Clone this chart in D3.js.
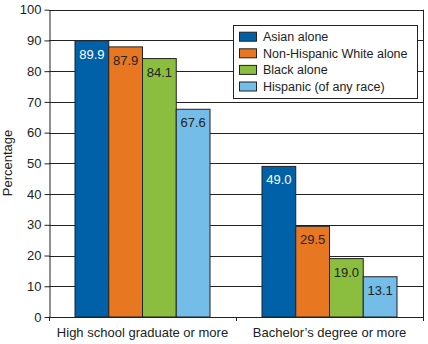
<!DOCTYPE html>
<html><head><meta charset="utf-8">
<script src="https://cdn.jsdelivr.net/npm/d3@7"></script>
<style>body{margin:0;background:#fff}svg{display:block}text{font-family:"Liberation Sans",Arial,sans-serif}</style>
</head><body><svg id="c" width="428" height="344"></svg>
<script>
const categories = ["High school graduate or more", "Bachelor\u2019s degree or more"];
const seriesNames = ["Asian alone", "Non-Hispanic White alone", "Black alone", "Hispanic (of any race)"];
const asian = [89.9, 49.0];
const white = [87.9, 29.5];
const black = [84.1, 19.0];
const hispanic = [67.6, 13.1];
const yTicks = [0,10,20,30,40,50,60,70,80,90,100];
const colors = ["#0061a9", "#e87722", "#8bbe3f", "#73bde8"];
const labelColors = ["#fff", "#222", "#222", "#222"];
const seriesValues = [asian, white, black, hispanic];

const svg = d3.select("#c");
const L = 49, R = 423, T = 9.7, B = 317;
const x0 = d3.scaleBand().domain(categories).range([L, R]).paddingInner(0.278).paddingOuter(0.139);
const x1 = d3.scaleBand().domain(seriesNames).range([0, x0.bandwidth()]);
const y = d3.scaleLinear().domain([0, 100]).range([B, T]);

// gridlines
svg.append("g").selectAll("line").data(yTicks.filter(d=>d>0)).join("line")
  .attr("x1", L).attr("x2", R).attr("y1", d=>Math.round(y(d))+0.5).attr("y2", d=>Math.round(y(d))+0.5)
  .attr("stroke", "#222").attr("stroke-width", 1);

// y axis
const ya = svg.append("g").attr("transform", `translate(${L+0.5},0)`)
  .call(d3.axisLeft(y).tickValues(yTicks).tickSize(5).tickSizeOuter(0).tickPadding(3));
ya.select(".domain").attr("stroke", "#222");
ya.selectAll(".tick line").attr("stroke", "#222");
ya.selectAll("text").attr("font-size", 13).attr("fill", "#222").attr("font-family", "Liberation Sans, Arial, sans-serif");

// right border
svg.append("line").attr("x1", R+0.5).attr("x2", R+0.5).attr("y1", y(100)).attr("y2", B+4).attr("stroke", "#222");

// bars
const g = svg.append("g");
categories.forEach((c, ci) => {
  seriesNames.forEach((s, si) => {
    const v = seriesValues[si][ci];
    const bx = x0(c) + x1(s);
    g.append("rect").attr("x", bx).attr("y", y(v)).attr("width", x1.bandwidth()).attr("height", B - y(v))
      .attr("fill", colors[si]).attr("stroke", "#222").attr("stroke-width", 1);
    g.append("text").attr("x", bx + x1.bandwidth()/2).attr("y", y(v) + 18)
      .attr("text-anchor", "middle").attr("font-size", 13).attr("fill", labelColors[si]).text(v.toFixed(1));
  });
});

// x axis
svg.append("line").attr("x1", L).attr("x2", R+1).attr("y1", B+0.5).attr("y2", B+0.5).attr("stroke", "#222");
[L, (x0(categories[0]) + x0.bandwidth() + x0(categories[1]))/2, R].forEach(xx => {
  svg.append("line").attr("x1", Math.round(xx)+0.5).attr("x2", Math.round(xx)+0.5).attr("y1", B).attr("y2", B+4).attr("stroke", "#222");
});
svg.append("g").selectAll("text").data(categories).join("text")
  .attr("x", d => x0(d) + x0.bandwidth()/2).attr("y", 337).attr("text-anchor", "middle")
  .attr("font-size", 13).attr("fill", "#222").text(d => d);

// y title
svg.append("text").attr("transform", "translate(12,163) rotate(-90)").attr("text-anchor", "middle")
  .attr("font-size", 13).attr("fill", "#222").text("Percentage");

// legend
const lg = svg.append("g");
lg.append("rect").attr("x", 233.5).attr("y", 25.5).attr("width", 184).attr("height", 73).attr("fill", "#fff").attr("stroke", "#222");
seriesNames.forEach((s, i) => {
  const cy = 36.7 + i * 16.6;
  lg.append("rect").attr("x", 239.5).attr("y", cy - 4.5).attr("width", 17).attr("height", 9).attr("fill", colors[i]).attr("stroke", "#222");
  lg.append("text").attr("x", 263).attr("y", cy + 4.5).attr("font-size", 12.5).attr("fill", "#222").text(s);
});
</script></body></html>
